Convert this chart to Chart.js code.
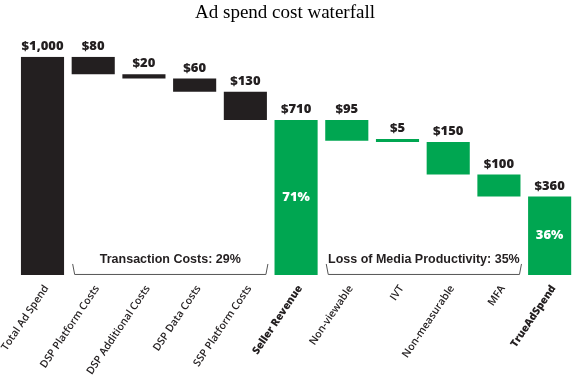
<!DOCTYPE html>
<html>
<head>
<meta charset="utf-8">
<title>Ad spend cost waterfall</title>
<script src="https://cdn.jsdelivr.net/npm/chart.js@4/dist/chart.umd.min.js"></script>
<style>
    html, body { margin: 0; padding: 0; background: #fff; }
    #wrap { width: 583px; height: 389px; position: relative; }
</style>
</head>
<body>
<div id="wrap"><canvas id="chart"></canvas></div>
<script>
// Waterfall data
const categories = [
    'Total Ad Spend', 'DSP Platform Costs', 'DSP Additional Costs', 'DSP Data Costs',
    'SSP Platform Costs', 'Seller Revenue', 'Non-viewable', 'IVT', 'Non-measurable',
    'MFA', 'TrueAdSpend'
];
const amounts = [1000, 80, 20, 60, 130, 710, 95, 5, 150, 100, 360];
const isTotal = [true, false, false, false, false, true, false, false, false, false, true];
const shareLabels = ['', '', '', '', '', '71%', '', '', '', '', '36%'];
const groupLabels = ['Transaction Costs: 29%', 'Loss of Media Productivity: 35%'];
const groupStart = [1, 6];
const groupEnd = [4, 9];

const DARK = '#231f20';
const GREEN = '#00a651';

// Build floating ranges from the running total
let running = 0;
const ranges = amounts.map((amt, i) => {
    if (isTotal[i]) {
        running = amt;
        return [0, amt];
    }
    const r = [running - amt, running];
    running -= amt;
    return r;
});

// Bars before seller revenue are black, the rest green
const colors = categories.map((c, i) => (i < 5 ? DARK : GREEN));

const labelPlugin = {
    id: 'waterfallLabels',
    afterDatasetsDraw(chart) {
        const ctx = chart.ctx;
        const meta = chart.getDatasetMeta(0);
        const yScale = chart.scales.y;
        ctx.save();
        ctx.textAlign = 'center';

        meta.data.forEach((bar, i) => {
            const p = bar.getProps(['x', 'y', 'base', 'width'], true);
            const top = Math.min(p.y, p.base);
            ctx.font = '800 13px "Open Sans", sans-serif';
            ctx.fillStyle = DARK;
            ctx.textBaseline = 'bottom';
            ctx.fillText('$' + amounts[i].toLocaleString('en-US'), p.x, top - 4);
            if (shareLabels[i]) {
                ctx.fillStyle = '#fff';
                ctx.textBaseline = 'middle';
                ctx.fillText(shareLabels[i], p.x, (p.y + p.base) / 2);
            }
        });

        // Brackets under the cost groups
        const bottom = yScale.getPixelForValue(0);
        groupLabels.forEach((label, g) => {
            const a = meta.data[groupStart[g]];
            const b = meta.data[groupEnd[g]];
            const left = a.x - a.width / 2 + 1;
            const right = b.x + b.width / 2 + 1;
            ctx.beginPath();
            ctx.moveTo(left, bottom - 11);
            ctx.lineTo(left + 2, bottom - 0.5);
            ctx.lineTo(right - 2, bottom - 0.5);
            ctx.lineTo(right, bottom - 11);
            ctx.strokeStyle = '#555';
            ctx.lineWidth = 1;
            ctx.stroke();

            ctx.font = 'bold 12.5px "Liberation Sans", sans-serif';
            ctx.fillStyle = DARK;
            ctx.textBaseline = 'middle';
            ctx.fillText(label, (left + right) / 2, bottom - 15);
        });
        ctx.restore();
    }
};

new Chart(document.getElementById('chart'), {
    type: 'bar',
    data: {
        labels: categories,
        datasets: [{
            data: ranges,
            backgroundColor: colors,
            borderWidth: 0,
            categoryPercentage: 1,
            barPercentage: 0.85,
            minBarLength: 3,
        }],
    },
    options: {
        responsive: true,
        maintainAspectRatio: false,
        animation: false,
        layout: { padding: { left: -5, right: 8, top: 0, bottom: 12 } },
        plugins: {
            legend: { display: false },
            tooltip: { enabled: false },
            title: {
                display: true,
                text: 'Ad spend cost waterfall',
                color: '#000',
                font: { family: '"Liberation Serif", serif', size: 19, weight: 'normal' },
                padding: { top: 2, bottom: 32 },
            },
        },
        scales: {
            x: {
                grid: { display: false },
                border: { display: false },
                ticks: {
                    color: DARK,
                    minRotation: 56,
                    maxRotation: 56,
                    autoSkip: false,
                    padding: 0,
                    labelOffset: 4,
                    font: (c) => ({
                        family: '"Open Sans", sans-serif',
                        size: 10.5,
                        weight: (c.index > 0 && isTotal[c.index]) ? '800' : '600',
                    }),
                },
            },
            y: {
                display: false,
                min: 0,
                max: 1000,
            },
        },
    },
    plugins: [labelPlugin],
});
</script>
</body>
</html>
